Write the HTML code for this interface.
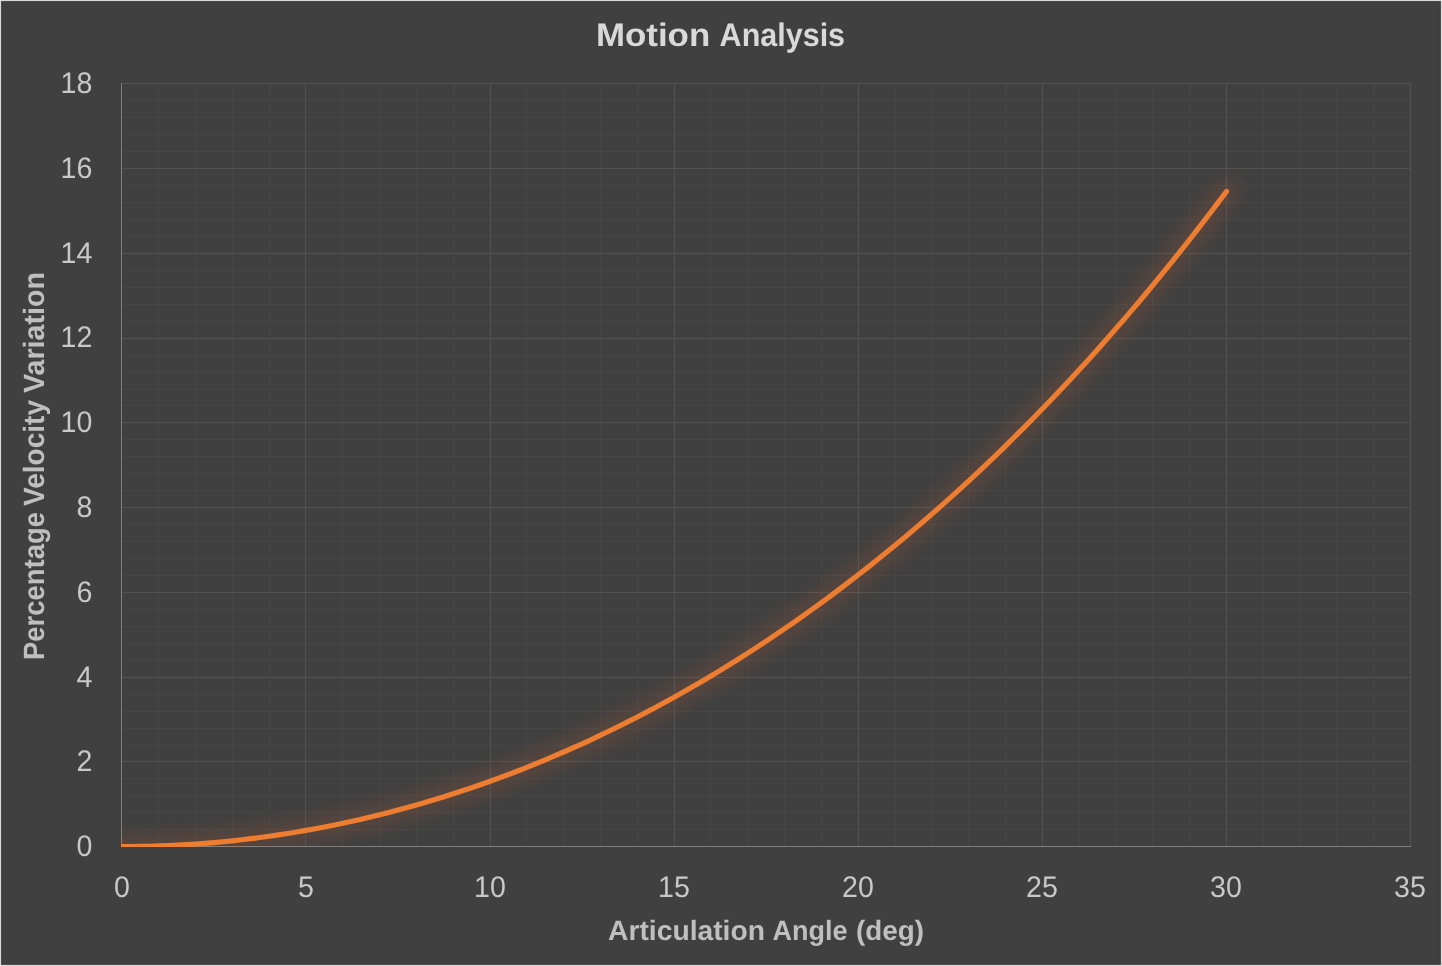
<!DOCTYPE html>
<html lang="en"><head><meta charset="utf-8"><title>Motion Analysis</title>
<style>html,body{margin:0;padding:0;background:#d9d9d9;overflow:hidden}svg{display:block}text{font-family:"Liberation Sans",sans-serif}</style>
</head><body>
<svg width="1442" height="966" viewBox="0 0 1442 966" text-rendering="geometricPrecision">
<defs><clipPath id="pc"><rect x="121" y="83" width="1290" height="764"/></clipPath>
<filter id="gl" color-interpolation-filters="sRGB" x="-5%" y="-5%" width="110%" height="110%"><feGaussianBlur stdDeviation="7.5"/></filter></defs>
<rect x="0" y="0" width="1442" height="966" fill="#d9d9d9"/>
<rect x="1.1" y="1.1" width="1439.75" height="963.75" fill="#3a3a3a"/>
<rect x="2.1" y="2.1" width="1437.75" height="961.75" fill="#404040"/>
<g stroke="#464646" stroke-width="1" shape-rendering="crispEdges">
<line x1="158.5" y1="83" x2="158.5" y2="847"/>
<line x1="195.5" y1="83" x2="195.5" y2="847"/>
<line x1="232.5" y1="83" x2="232.5" y2="847"/>
<line x1="269.5" y1="83" x2="269.5" y2="847"/>
<line x1="342.5" y1="83" x2="342.5" y2="847"/>
<line x1="379.5" y1="83" x2="379.5" y2="847"/>
<line x1="416.5" y1="83" x2="416.5" y2="847"/>
<line x1="453.5" y1="83" x2="453.5" y2="847"/>
<line x1="526.5" y1="83" x2="526.5" y2="847"/>
<line x1="563.5" y1="83" x2="563.5" y2="847"/>
<line x1="600.5" y1="83" x2="600.5" y2="847"/>
<line x1="637.5" y1="83" x2="637.5" y2="847"/>
<line x1="710.5" y1="83" x2="710.5" y2="847"/>
<line x1="747.5" y1="83" x2="747.5" y2="847"/>
<line x1="784.5" y1="83" x2="784.5" y2="847"/>
<line x1="821.5" y1="83" x2="821.5" y2="847"/>
<line x1="895.5" y1="83" x2="895.5" y2="847"/>
<line x1="931.5" y1="83" x2="931.5" y2="847"/>
<line x1="968.5" y1="83" x2="968.5" y2="847"/>
<line x1="1005.5" y1="83" x2="1005.5" y2="847"/>
<line x1="1079.5" y1="83" x2="1079.5" y2="847"/>
<line x1="1115.5" y1="83" x2="1115.5" y2="847"/>
<line x1="1152.5" y1="83" x2="1152.5" y2="847"/>
<line x1="1189.5" y1="83" x2="1189.5" y2="847"/>
<line x1="1263.5" y1="83" x2="1263.5" y2="847"/>
<line x1="1300.5" y1="83" x2="1300.5" y2="847"/>
<line x1="1336.5" y1="83" x2="1336.5" y2="847"/>
<line x1="1373.5" y1="83" x2="1373.5" y2="847"/>
<line x1="121" y1="829.5" x2="1411" y2="829.5"/>
<line x1="121" y1="812.5" x2="1411" y2="812.5"/>
<line x1="121" y1="795.5" x2="1411" y2="795.5"/>
<line x1="121" y1="778.5" x2="1411" y2="778.5"/>
<line x1="121" y1="745.5" x2="1411" y2="745.5"/>
<line x1="121" y1="728.5" x2="1411" y2="728.5"/>
<line x1="121" y1="711.5" x2="1411" y2="711.5"/>
<line x1="121" y1="694.5" x2="1411" y2="694.5"/>
<line x1="121" y1="660.5" x2="1411" y2="660.5"/>
<line x1="121" y1="643.5" x2="1411" y2="643.5"/>
<line x1="121" y1="626.5" x2="1411" y2="626.5"/>
<line x1="121" y1="609.5" x2="1411" y2="609.5"/>
<line x1="121" y1="575.5" x2="1411" y2="575.5"/>
<line x1="121" y1="558.5" x2="1411" y2="558.5"/>
<line x1="121" y1="541.5" x2="1411" y2="541.5"/>
<line x1="121" y1="524.5" x2="1411" y2="524.5"/>
<line x1="121" y1="490.5" x2="1411" y2="490.5"/>
<line x1="121" y1="473.5" x2="1411" y2="473.5"/>
<line x1="121" y1="456.5" x2="1411" y2="456.5"/>
<line x1="121" y1="439.5" x2="1411" y2="439.5"/>
<line x1="121" y1="405.5" x2="1411" y2="405.5"/>
<line x1="121" y1="389.5" x2="1411" y2="389.5"/>
<line x1="121" y1="372.5" x2="1411" y2="372.5"/>
<line x1="121" y1="355.5" x2="1411" y2="355.5"/>
<line x1="121" y1="321.5" x2="1411" y2="321.5"/>
<line x1="121" y1="304.5" x2="1411" y2="304.5"/>
<line x1="121" y1="287.5" x2="1411" y2="287.5"/>
<line x1="121" y1="270.5" x2="1411" y2="270.5"/>
<line x1="121" y1="236.5" x2="1411" y2="236.5"/>
<line x1="121" y1="219.5" x2="1411" y2="219.5"/>
<line x1="121" y1="202.5" x2="1411" y2="202.5"/>
<line x1="121" y1="185.5" x2="1411" y2="185.5"/>
<line x1="121" y1="151.5" x2="1411" y2="151.5"/>
<line x1="121" y1="134.5" x2="1411" y2="134.5"/>
<line x1="121" y1="117.5" x2="1411" y2="117.5"/>
<line x1="121" y1="100.5" x2="1411" y2="100.5"/>
</g>
<g stroke="#525252" stroke-width="1" shape-rendering="crispEdges">
<line x1="305.5" y1="83" x2="305.5" y2="847"/>
<line x1="490.5" y1="83" x2="490.5" y2="847"/>
<line x1="674.5" y1="83" x2="674.5" y2="847"/>
<line x1="858.5" y1="83" x2="858.5" y2="847"/>
<line x1="1042.5" y1="83" x2="1042.5" y2="847"/>
<line x1="1226.5" y1="83" x2="1226.5" y2="847"/>
<line x1="1410.5" y1="83" x2="1410.5" y2="847"/>
<line x1="121" y1="761.5" x2="1411" y2="761.5"/>
<line x1="121" y1="677.5" x2="1411" y2="677.5"/>
<line x1="121" y1="592.5" x2="1411" y2="592.5"/>
<line x1="121" y1="507.5" x2="1411" y2="507.5"/>
<line x1="121" y1="422.5" x2="1411" y2="422.5"/>
<line x1="121" y1="338.5" x2="1411" y2="338.5"/>
<line x1="121" y1="253.5" x2="1411" y2="253.5"/>
<line x1="121" y1="168.5" x2="1411" y2="168.5"/>
<line x1="121" y1="83.5" x2="1411" y2="83.5"/>
</g>
<g stroke="#808080" stroke-width="1" shape-rendering="crispEdges">
<line x1="121.5" y1="83" x2="121.5" y2="847"/><line x1="121" y1="846.5" x2="1411" y2="846.5"/>
</g>
<g clip-path="url(#pc)" fill="none" stroke-linecap="round" stroke-linejoin="round">
<g opacity="0.12"><path d="M121.90 846.60 L131.11 846.56 L140.31 846.44 L149.52 846.24 L158.72 845.95 L167.93 845.59 L177.13 845.15 L186.34 844.62 L195.54 844.02 L204.75 843.33 L213.95 842.57 L223.16 841.72 L232.36 840.79 L241.56 839.78 L250.77 838.69 L259.98 837.51 L269.18 836.26 L278.38 834.92 L287.59 833.50 L296.80 832.00 L306.00 830.42 L315.21 828.76 L324.41 827.01 L333.62 825.18 L342.82 823.27 L352.02 821.28 L361.23 819.20 L370.44 817.04 L379.64 814.80 L388.85 812.47 L398.05 810.06 L407.25 807.56 L416.46 804.98 L425.66 802.32 L434.87 799.57 L444.08 796.73 L453.28 793.81 L462.49 790.80 L471.69 787.71 L480.89 784.53 L490.10 781.27 L499.31 777.92 L508.51 774.48 L517.72 770.95 L526.92 767.33 L536.12 763.63 L545.33 759.84 L554.53 755.96 L563.74 751.99 L572.95 747.93 L582.15 743.78 L591.36 739.53 L600.56 735.20 L609.76 730.78 L618.97 726.26 L628.17 721.65 L637.38 716.95 L646.59 712.16 L655.79 707.27 L665.00 702.28 L674.20 697.21 L683.40 692.03 L692.61 686.76 L701.81 681.40 L711.02 675.93 L720.23 670.37 L729.43 664.71 L738.63 658.95 L747.84 653.10 L757.04 647.14 L766.25 641.08 L775.45 634.92 L784.66 628.66 L793.87 622.29 L803.07 615.83 L812.27 609.25 L821.48 602.58 L830.68 595.79 L839.89 588.91 L849.10 581.91 L858.30 574.81 L867.50 567.60 L876.71 560.27 L885.91 552.84 L895.12 545.30 L904.32 537.65 L913.53 529.88 L922.74 522.00 L931.94 514.01 L941.14 505.90 L950.35 497.67 L959.55 489.33 L968.76 480.86 L977.97 472.28 L987.17 463.58 L996.38 454.76 L1005.58 445.82 L1014.78 436.75 L1023.99 427.56 L1033.19 418.24 L1042.40 408.79 L1051.61 399.22 L1060.81 389.52 L1070.02 379.69 L1079.22 369.73 L1088.42 359.64 L1097.63 349.41 L1106.84 339.05 L1116.04 328.55 L1125.25 317.91 L1134.45 307.14 L1143.65 296.22 L1152.86 285.17 L1162.07 273.97 L1171.27 262.62 L1180.48 251.13 L1189.68 239.50 L1198.88 227.71 L1208.09 215.77 L1217.30 203.69 L1226.50 191.44" stroke="#fa6932" stroke-width="26" filter="url(#gl)"/></g>
<path d="M121.90 846.60 L131.11 846.56 L140.31 846.44 L149.52 846.24 L158.72 845.95 L167.93 845.59 L177.13 845.15 L186.34 844.62 L195.54 844.02 L204.75 843.33 L213.95 842.57 L223.16 841.72 L232.36 840.79 L241.56 839.78 L250.77 838.69 L259.98 837.51 L269.18 836.26 L278.38 834.92 L287.59 833.50 L296.80 832.00 L306.00 830.42 L315.21 828.76 L324.41 827.01 L333.62 825.18 L342.82 823.27 L352.02 821.28 L361.23 819.20 L370.44 817.04 L379.64 814.80 L388.85 812.47 L398.05 810.06 L407.25 807.56 L416.46 804.98 L425.66 802.32 L434.87 799.57 L444.08 796.73 L453.28 793.81 L462.49 790.80 L471.69 787.71 L480.89 784.53 L490.10 781.27 L499.31 777.92 L508.51 774.48 L517.72 770.95 L526.92 767.33 L536.12 763.63 L545.33 759.84 L554.53 755.96 L563.74 751.99 L572.95 747.93 L582.15 743.78 L591.36 739.53 L600.56 735.20 L609.76 730.78 L618.97 726.26 L628.17 721.65 L637.38 716.95 L646.59 712.16 L655.79 707.27 L665.00 702.28 L674.20 697.21 L683.40 692.03 L692.61 686.76 L701.81 681.40 L711.02 675.93 L720.23 670.37 L729.43 664.71 L738.63 658.95 L747.84 653.10 L757.04 647.14 L766.25 641.08 L775.45 634.92 L784.66 628.66 L793.87 622.29 L803.07 615.83 L812.27 609.25 L821.48 602.58 L830.68 595.79 L839.89 588.91 L849.10 581.91 L858.30 574.81 L867.50 567.60 L876.71 560.27 L885.91 552.84 L895.12 545.30 L904.32 537.65 L913.53 529.88 L922.74 522.00 L931.94 514.01 L941.14 505.90 L950.35 497.67 L959.55 489.33 L968.76 480.86 L977.97 472.28 L987.17 463.58 L996.38 454.76 L1005.58 445.82 L1014.78 436.75 L1023.99 427.56 L1033.19 418.24 L1042.40 408.79 L1051.61 399.22 L1060.81 389.52 L1070.02 379.69 L1079.22 369.73 L1088.42 359.64 L1097.63 349.41 L1106.84 339.05 L1116.04 328.55 L1125.25 317.91 L1134.45 307.14 L1143.65 296.22 L1152.86 285.17 L1162.07 273.97 L1171.27 262.62 L1180.48 251.13 L1189.68 239.50 L1198.88 227.71 L1208.09 215.77 L1217.30 203.69 L1226.50 191.44" stroke="#ed7d31" stroke-width="5.2"/>
</g>
<g fill="#c8c8c8" font-size="29.8" text-anchor="end">
<text x="92.4" y="856.0" textLength="15.9" lengthAdjust="spacingAndGlyphs">0</text>
<text x="92.4" y="771.2" textLength="15.9" lengthAdjust="spacingAndGlyphs">2</text>
<text x="92.4" y="686.5" textLength="15.9" lengthAdjust="spacingAndGlyphs">4</text>
<text x="92.4" y="601.7" textLength="15.9" lengthAdjust="spacingAndGlyphs">6</text>
<text x="92.4" y="516.9" textLength="15.9" lengthAdjust="spacingAndGlyphs">8</text>
<text x="92.4" y="432.2" textLength="31.8" lengthAdjust="spacingAndGlyphs">10</text>
<text x="92.4" y="347.4" textLength="31.8" lengthAdjust="spacingAndGlyphs">12</text>
<text x="92.4" y="262.7" textLength="31.8" lengthAdjust="spacingAndGlyphs">14</text>
<text x="92.4" y="177.9" textLength="31.8" lengthAdjust="spacingAndGlyphs">16</text>
<text x="92.4" y="93.1" textLength="31.8" lengthAdjust="spacingAndGlyphs">18</text>
</g>
<g fill="#c8c8c8" font-size="29.8" text-anchor="middle">
<text x="122.0" y="897.0" textLength="15.9" lengthAdjust="spacingAndGlyphs">0</text>
<text x="306.0" y="897.0" textLength="15.9" lengthAdjust="spacingAndGlyphs">5</text>
<text x="490.0" y="897.0" textLength="31.8" lengthAdjust="spacingAndGlyphs">10</text>
<text x="674.0" y="897.0" textLength="31.8" lengthAdjust="spacingAndGlyphs">15</text>
<text x="858.0" y="897.0" textLength="31.8" lengthAdjust="spacingAndGlyphs">20</text>
<text x="1042.0" y="897.0" textLength="31.8" lengthAdjust="spacingAndGlyphs">25</text>
<text x="1226.0" y="897.0" textLength="31.8" lengthAdjust="spacingAndGlyphs">30</text>
<text x="1410.0" y="897.0" textLength="31.8" lengthAdjust="spacingAndGlyphs">35</text>
</g>
<text id="title" y="45.9" font-weight="bold" font-size="32.6" fill="#d9d9d9"><tspan x="595.9" textLength="114.4" lengthAdjust="spacingAndGlyphs">Motion</tspan> <tspan x="719.6" textLength="125.5" lengthAdjust="spacingAndGlyphs">Analysis</tspan></text>
<text id="xt" y="939.7" font-weight="bold" font-size="27.9" fill="#bfbfbf"><tspan x="608" textLength="157" lengthAdjust="spacingAndGlyphs">Articulation</tspan> <tspan x="772.5" textLength="75" lengthAdjust="spacingAndGlyphs">Angle</tspan> <tspan x="856" textLength="68" lengthAdjust="spacingAndGlyphs">(deg)</tspan></text>
<text id="yt" transform="translate(44.3 0) rotate(-90)" y="0" font-weight="bold" font-size="29.3" fill="#bfbfbf"><tspan x="-660" textLength="148" lengthAdjust="spacingAndGlyphs">Percentage</tspan> <tspan x="-506" textLength="106" lengthAdjust="spacingAndGlyphs">Velocity</tspan> <tspan x="-393" textLength="121" lengthAdjust="spacingAndGlyphs">Variation</tspan></text>
</svg></body></html>
